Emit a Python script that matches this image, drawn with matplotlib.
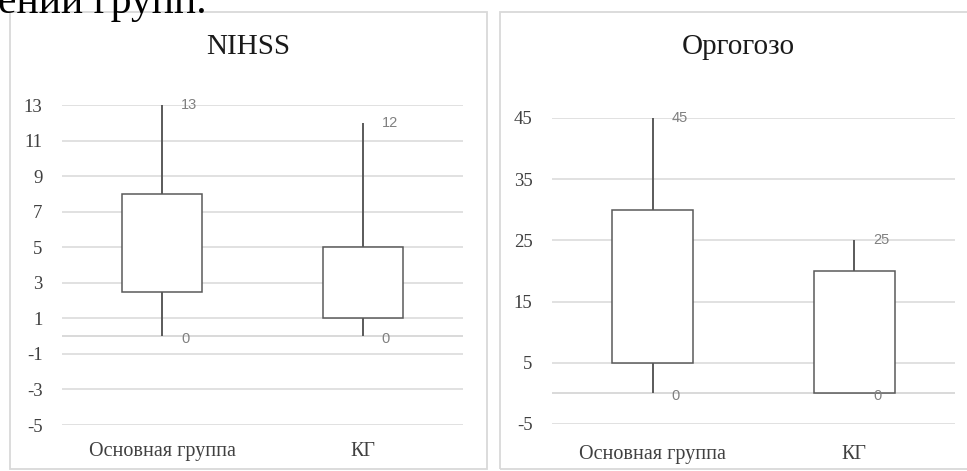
import matplotlib
matplotlib.use('Agg')
from matplotlib import pyplot
from matplotlib.patches import Rectangle

groups = ['Основная группа', 'КГ']

nihss_min = [0, 0]
nihss_q1 = [2.5, 1]
nihss_q3 = [8, 5]
nihss_max = [13, 12]
nihss_ticks = [-5, -3, -1, 1, 3, 5, 7, 9, 11, 13]

orgo_min = [0, 0]
orgo_q1 = [5, 0]
orgo_q3 = [30, 20]
orgo_max = [45, 25]
orgo_ticks = [-5, 5, 15, 25, 35, 45]

W, H = 967, 471
serif = ['Liberation Serif', 'DejaVu Serif']
sans = ['Liberation Sans', 'DejaVu Sans']

fig = pyplot.figure(figsize=(W / 100, H / 100), dpi=100)

# cut-off line of text from the page above the charts
fig.text(-0.002, 1 - 13 / H, 'ений групп.', family=serif, fontsize=30,
         va='baseline', ha='left', color='black')

# panel frames
for x0, x1 in [(10, 487), (500, 980)]:
    fig.patches.append(Rectangle((x0 / W, 1 - 469 / H), (x1 - x0) / W, 457 / H,
                                 transform=fig.transFigure, fill=False,
                                 edgecolor='#d9d9d9', linewidth=1.3))


def draw_box(ax, lo, q1, q3, hi, ticks, title, title_x, label_pad):
    pos = range(len(groups))
    ax.bar(pos, [b - a for a, b in zip(q1, q3)], bottom=q1, width=0.40,
           facecolor='white', edgecolor='#5a5a5a', linewidth=1.1, zorder=3)
    ax.vlines(pos, lo, q1, color='#5a5a5a', linewidth=1.4, zorder=2)
    ax.vlines(pos, q3, hi, color='#5a5a5a', linewidth=1.4, zorder=2)
    for p, v in zip(pos, hi):
        ax.annotate(str(v), (p, v), xytext=(13.5, 0), textcoords='offset points',
                    ha='left', va='center', family=sans, fontsize=10.5,
                    color='#808080', zorder=4)
    for p, v in zip(pos, lo):
        ax.annotate(str(v), (p, v), xytext=(13.5, -2), textcoords='offset points',
                    ha='left', va='center', family=sans, fontsize=10.5,
                    color='#808080', zorder=4)
    ax.set_xlim(-0.5, 1.5)
    ax.set_ylim(ticks[0], ticks[-1])
    ax.set_yticks(ticks)
    ax.set_yticklabels([str(t) for t in ticks], family=serif, fontsize=13.5)
    ax.set_xticks(list(pos))
    ax.set_xticklabels(groups, family=serif, fontsize=14.5)
    ax.tick_params(axis='y', length=0, pad=14, colors='#404040')
    ax.tick_params(axis='x', length=0, pad=label_pad, colors='#404040')
    ax.grid(axis='y', color='#d9d9d9', linewidth=1.1, zorder=0)
    ax.axhline(0, color='#d0d0d0', linewidth=1.1, zorder=1)
    ax.set_axisbelow(True)
    for s in ax.spines.values():
        s.set_visible(False)
    fig.text(title_x, 1 - 47 / H, title, family=serif, fontsize=21,
             ha='center', va='center', color='#1a1a1a')


ax1 = fig.add_axes([62 / W, 1 - 425 / H, 401 / W, 320 / H])
draw_box(ax1, nihss_min, nihss_q1, nihss_q3, nihss_max, nihss_ticks,
         'NIHSS', 248 / W, 12)

ax2 = fig.add_axes([552 / W, 1 - 424 / H, 403 / W, 306 / H])
draw_box(ax2, orgo_min, orgo_q1, orgo_q3, orgo_max, orgo_ticks,
         'Оргогозо', 738 / W, 15)

fig.savefig('out.png', dpi=100)
